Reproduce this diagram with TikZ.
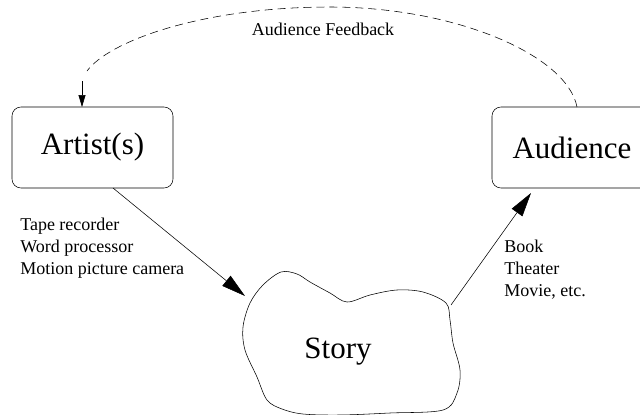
\documentclass[tikz,border=0pt]{standalone}
\usepackage{fontspec}
\setmainfont{Liberation Serif}
\usetikzlibrary{arrows.meta}
\begin{document}
\begin{tikzpicture}[x=1pt,y=-1pt,line width=0.55pt,
  box/.style={draw,rounded corners=9pt,inner sep=0pt,font=\fontsize{31}{36}\selectfont},
  big/.style={font=\fontsize{31}{36}\selectfont,inner sep=0pt},
  lbl/.style={font=\fontsize{18}{22}\selectfont,inner sep=0pt,align=left},
  bigtip/.style={-{Triangle[length=24pt,width=13pt]}},
  smalltip/.style={-{Triangle[length=12pt,width=7pt]}},
  fb/.style={dash pattern=on 8pt off 5pt}]
\useasboundingbox (0,0) rectangle (640,415);
\clip (0,0) rectangle (640,415);
\fill[white] (0,0) rectangle (640,415);

\node[box,minimum width=161pt,minimum height=81pt] (artist) at (92.5,147.5) {Artist(s)\hspace{8pt}};
\node[box,minimum width=160pt,minimum height=81pt] (audience) at (572,147.5) {Audience};

% story blob
\draw plot[smooth cycle,tension=0.55] coordinates {
 (281,272) (263,285) (250,303) (243,327) (245,350) (257,377) (267,400)
 (282,409) (303,414) (340,415) (390,413) (443,410) (457,393) (460,370)
 (453,343) (450,320) (446,303) (423,292) (397,290) (370,295) (347,302)
 (330,293) (310,282) (297,274)};
\node[big] (story) at (338,352) {Story};

% connectors
\coordinate (a1) at (113,188);
\coordinate (s1) at (245,296);
\coordinate (s2) at (451,305);
\coordinate (u1) at (531,193);
\draw[bigtip] (a1) -- (s1);
\draw[bigtip] (s2) -- (u1);

\coordinate (fbstart) at (577,107);
\coordinate (fbpeak) at (330,7);
\coordinate (fbend) at (87,71);
\coordinate (fbarr) at (82,81);
\coordinate (fbtip) at (82,107);
\draw[fb] (fbstart) .. controls (567,55) and (455,7) .. (fbpeak)
  .. controls (205,7) and (110,40) .. (fbend);
\draw[smalltip] (fbarr) -- (fbtip);

\node[lbl,anchor=base] (fblabel) at (323,35) {Audience Feedback};
\node[lbl,anchor=north west] (tools) at (20,217.5) {Tape recorder\\Word processor\\Motion picture camera};
\node[lbl,anchor=north west] (media) at (504,240) {Book\\Theater\\Movie, etc.};
\end{tikzpicture}
\end{document}
